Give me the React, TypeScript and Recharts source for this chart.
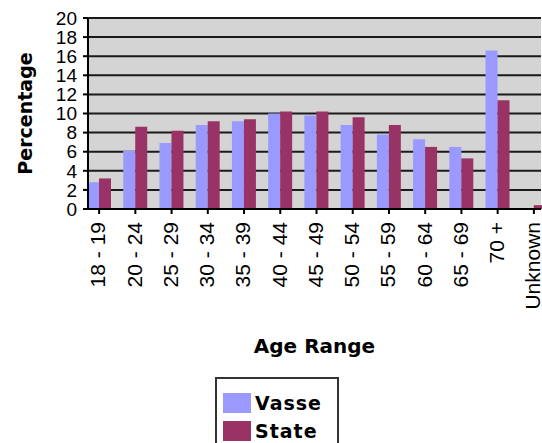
import React from 'react';
import { BarChart, Bar, XAxis, YAxis, CartesianGrid, Legend } from 'recharts';

const ageRanges = ['18 - 19', '20 - 24', '25 - 29', '30 - 34', '35 - 39', '40 - 44', '45 - 49', '50 - 54', '55 - 59', '60 - 64', '65 - 69', '70 +', 'Unknown'];
const vasseValues = [2.8, 6.1, 6.9, 8.8, 9.2, 10.0, 9.8, 8.8, 7.8, 7.3, 6.5, 16.6, 0.1];
const stateValues = [3.2, 8.6, 8.2, 9.2, 9.4, 10.2, 10.2, 9.6, 8.8, 6.5, 5.3, 11.4, 0.4];
const yTicks = [0, 2, 4, 6, 8, 10, 12, 14, 16, 18, 20];
const seriesOrder = ['Vasse', 'State'];

const chartData = ageRanges.map((range, i) => ({
    range,
    vasse: vasseValues[i],
    state: stateValues[i],
}));

const TICK_FONT = '"Liberation Sans", Arial, sans-serif';
const TITLE_FONT = '"DejaVu Sans", sans-serif';

// rotated category labels, reading bottom to top
const AgeTick = (props: any) => {
    const { x, y, payload } = props;
    return (
        <text
            transform={`translate(${x},${y}) rotate(-90)`}
            textAnchor="end"
            dy="0.3em"
            fontFamily={TICK_FONT}
            fontSize={21}
            fill="#000"
        >
            {payload.value}
        </text>
    );
};

const LegendBox = (props: any) => {
    const items = [...(props.payload || [])].sort(
        (a: any, b: any) => seriesOrder.indexOf(a.value) - seriesOrder.indexOf(b.value)
    );
    return (
        <div style={{ width: 124, height: 80, border: '2px solid #333', background: '#fff', boxSizing: 'border-box', paddingTop: 10, paddingLeft: 6 }}>
            {items.map((entry: any) => (
                <div key={entry.value} style={{ display: 'flex', alignItems: 'center', height: 28 }}>
                    <span style={{ width: 28, height: 20, background: entry.color, display: 'inline-block', marginRight: 4 }} />
                    <span style={{ fontFamily: TITLE_FONT, fontWeight: 'bold', fontSize: 19, letterSpacing: 1, color: '#000' }}>{entry.value}</span>
                </div>
            ))}
        </div>
    );
};

export default function App() {
    return (
        <div style={{ position: 'absolute', left: 0, top: 0, width: 542, height: 443, overflow: 'hidden', background: '#fff' }}>
            <BarChart
                width={542}
                height={443}
                data={chartData}
                margin={{ top: 18, right: 1, bottom: 0, left: 0 }}
                barGap={0}
                barSize={12}
            >
                <CartesianGrid vertical={false} stroke="#1a1a1a" strokeWidth={2} fill="#d4d4d4" fillOpacity={1} />
                <XAxis
                    dataKey="range"
                    height={234}
                    interval={0}
                    padding={{ left: -7, right: -11 }}
                    tick={<AgeTick />}
                    tickSize={5}
                    tickMargin={8}
                    axisLine={{ stroke: '#000', strokeWidth: 2 }}
                    tickLine={{ stroke: '#000', strokeWidth: 2 }}
                    label={(p: any) => {
                        const vb = p.viewBox;
                        return (
                            <text x={vb.x + vb.width / 2} y={vb.y + 144} textAnchor="middle" fontFamily={TITLE_FONT} fontWeight="bold" fontSize={20} fill="#000">
                                Age Range
                            </text>
                        );
                    }}
                />
                <YAxis
                    width={88}
                    domain={[0, 20]}
                    ticks={yTicks}
                    interval={0}
                    tickSize={5}
                    tickMargin={6}
                    tick={{ fontFamily: TICK_FONT, fontSize: 19, fill: '#000' }}
                    axisLine={{ stroke: '#000', strokeWidth: 2 }}
                    tickLine={{ stroke: '#000', strokeWidth: 2 }}
                    label={(p: any) => {
                        const vb = p.viewBox;
                        const cx = vb.x + 25;
                        const cy = vb.y + vb.height / 2;
                        return (
                            <text transform={`translate(${cx},${cy}) rotate(-90)`} textAnchor="middle" dy="0.36em" fontFamily={TITLE_FONT} fontWeight="bold" fontSize={19} fill="#000">
                                Percentage
                            </text>
                        );
                    }}
                />
                <Legend
                    layout="vertical"
                    align="center"
                    verticalAlign="middle"
                    content={<LegendBox />}
                    wrapperStyle={{ left: 215, top: 377, width: 126 }}
                />
                <Bar dataKey="vasse" name="Vasse" fill="#9999ff" isAnimationActive={false} />
                <Bar dataKey="state" name="State" fill="#993366" isAnimationActive={false} />
            </BarChart>
        </div>
    );
}
